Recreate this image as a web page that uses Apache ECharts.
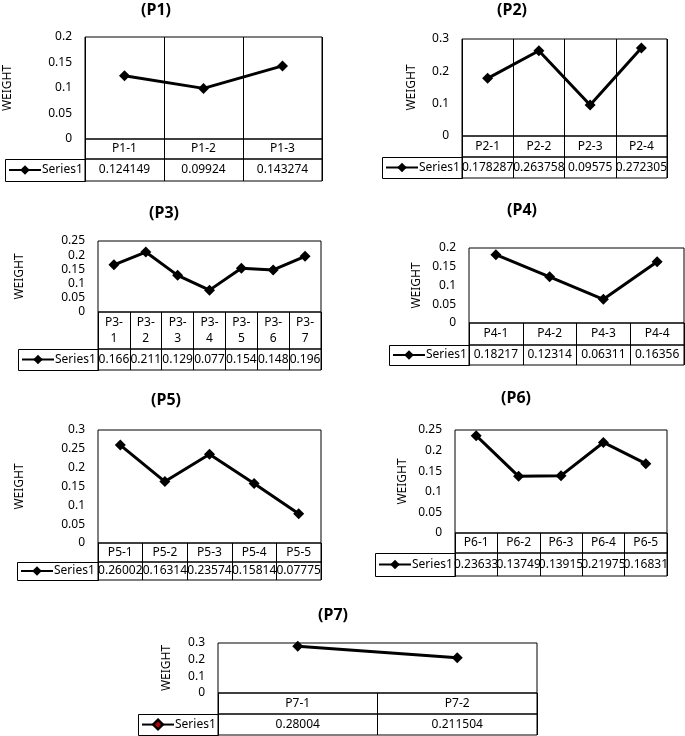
<!DOCTYPE html>
<html><head><meta charset="utf-8">
<script src="https://cdn.jsdelivr.net/npm/echarts@6/dist/echarts.min.js"></script>
<style>html,body{margin:0;padding:0;background:#fff}#c{width:685px;height:736px}</style>
</head><body><div id="c"></div>
<script>
// ---- data ----
const titles = ['(P1)', '(P2)', '(P3)', '(P4)', '(P5)', '(P6)', '(P7)'];
const cats1 = ['P1-1', 'P1-2', 'P1-3'];
const vals1 = [0.124149, 0.09924, 0.143274];
const cats2 = ['P2-1', 'P2-2', 'P2-3', 'P2-4'];
const vals2 = [0.178287, 0.263758, 0.09575, 0.272305];
const cats3 = ['P3-1', 'P3-2', 'P3-3', 'P3-4', 'P3-5', 'P3-6', 'P3-7'];
const vals3 = [0.166, 0.211, 0.129, 0.077, 0.154, 0.148, 0.196];
const cats4 = ['P4-1', 'P4-2', 'P4-3', 'P4-4'];
const vals4 = [0.18217, 0.12314, 0.06311, 0.16356];
const cats5 = ['P5-1', 'P5-2', 'P5-3', 'P5-4', 'P5-5'];
const vals5 = [0.26002, 0.16314, 0.23574, 0.15814, 0.07775];
const cats6 = ['P6-1', 'P6-2', 'P6-3', 'P6-4', 'P6-5'];
const vals6 = [0.23633, 0.13749, 0.13915, 0.21975, 0.16831];
const cats7 = ['P7-1', 'P7-2'];
const vals7 = [0.28004, 0.211504];
const yMax = [0.2, 0.3, 0.25, 0.2, 0.3, 0.25, 0.3];
const yStep = [0.05, 0.1, 0.05, 0.05, 0.05, 0.05, 0.1];
const seriesName = 'Series1';
const axisTitle = 'WEIGHT';

const allCats = [cats1, cats2, cats3, cats4, cats5, cats6, cats7];
const allVals = [vals1, vals2, vals3, vals4, vals5, vals6, vals7];

// ---- layout (pixels) ----
const layout = [
  {L: 85,  T: 37,  R: 322, B: 139, CB: 159, DB: 181, CL: 5,   tx: 156, ty: 12,  wx: 8,   vlines: true,  wrap: false},
  {L: 462, T: 39,  R: 667, B: 136, CB: 157, DB: 178, CL: 382, tx: 512, ty: 12,  wx: 412, vlines: true,  wrap: false},
  {L: 98,  T: 241, R: 321, B: 312, CB: 349, DB: 370, CL: 18,  tx: 164, ty: 215, wx: 20,  vlines: false, wrap: true},
  {L: 469, T: 248, R: 684, B: 323, CB: 345, DB: 365, CL: 389, tx: 522, ty: 212, wx: 417, vlines: false, wrap: false},
  {L: 98,  T: 430, R: 321, B: 543, CB: 562, DB: 580, CL: 17,  tx: 166, ty: 402, wx: 20,  vlines: false, wrap: false},
  {L: 455, T: 430, R: 667, B: 533, CB: 553, DB: 576, CL: 375, tx: 516, ty: 400, wx: 403, vlines: false, wrap: false},
  {L: 218, T: 643, R: 537, B: 693, CB: 714, DB: 735, CL: 138, tx: 333, ty: 617, wx: 167, vlines: false, wrap: false}
];

const FONT = 'Noto Sans';
const FS = 12;
const grid = [], xAxis = [], yAxis = [], series = [], legend = [], title = [], graphic = [];
const border = {show: true, borderColor: '#000', borderWidth: 1, backgroundColor: 'transparent'};

layout.forEach((p, i) => {
  const cats = allCats[i], vals = allVals[i];
  const w = p.R - p.L;
  const g0 = grid.length;
  grid.push(Object.assign({left: p.L, top: p.T, width: w, height: p.B - p.T}, border));
  grid.push(Object.assign({left: p.L, top: p.B, width: w, height: p.CB - p.B}, border));
  grid.push(Object.assign({left: p.L, top: p.CB, width: w, height: p.DB - p.CB}, border));

  // plot axes
  xAxis.push({type: 'category', gridIndex: g0, data: cats, boundaryGap: true,
    axisLine: {show: false}, axisTick: {show: false}, axisLabel: {show: false},
    splitLine: {show: p.vlines, interval: 0, lineStyle: {color: '#000', width: 1}}});
  yAxis.push({type: 'value', gridIndex: g0, min: 0, max: yMax[i], interval: yStep[i],
    axisLine: {show: false}, axisTick: {show: false}, splitLine: {show: false},
    axisLabel: {color: '#000', fontSize: FS, fontFamily: FONT, margin: 13},
    name: axisTitle, nameLocation: 'middle', nameRotate: 90, nameGap: p.L - p.wx - 6,
    nameTextStyle: {color: '#000', fontSize: 12, fontFamily: FONT}});

  // category row
  const hC = p.CB - p.B;
  xAxis.push({type: 'category', gridIndex: g0 + 1, data: cats, position: 'top', boundaryGap: true,
    axisLine: {show: false}, axisTick: {show: false},
    axisLabel: {inside: true, margin: hC / 2, verticalAlign: 'middle', interval: 0,
      color: '#000', fontSize: FS, fontFamily: FONT, lineHeight: 16,
      formatter: v => p.wrap ? v.replace('-', '-\n') : v},
    splitLine: {show: true, interval: 0, lineStyle: {color: '#000', width: 1}}});
  yAxis.push({type: 'value', gridIndex: g0 + 1, show: false});

  // data row
  const hD = p.DB - p.CB;
  xAxis.push({type: 'category', gridIndex: g0 + 2, data: cats, position: 'top', boundaryGap: true,
    axisLine: {show: false}, axisTick: {show: false},
    axisLabel: {inside: true, margin: hD / 2, verticalAlign: 'middle', interval: 0,
      color: '#000', fontSize: FS, fontFamily: FONT,
      formatter: (v, idx) => String(vals[idx])},
    splitLine: {show: true, interval: 0, lineStyle: {color: '#000', width: 1}}});
  yAxis.push({type: 'value', gridIndex: g0 + 2, show: false});

  series.push({type: 'line', name: seriesName, xAxisIndex: g0, yAxisIndex: g0, data: vals,
    symbol: 'diamond', symbolSize: 11, lineStyle: {color: '#000', width: 3},
    itemStyle: {color: '#000'}, z: 5, animation: false});

  legend.push(Object.assign({data: [seriesName], left: p.CL + 3, top: p.CB + hD / 2 - 6, padding: 0,
    itemWidth: 32, itemHeight: 12, selectedMode: false, itemGap: 0,
    textStyle: {color: '#000', fontSize: FS, fontFamily: FONT, padding: [0, 0, 0, -4]}},
    i === 6 ? {itemStyle: {color: '#c00000', borderColor: '#000', borderWidth: 2.5}} : {}));

  title.push({text: titles[i], left: p.tx, top: p.ty - 10, textAlign: 'center', padding: 0,
    textStyle: {color: '#000', fontSize: 16, fontWeight: 'bold', fontFamily: FONT}});

  graphic.push({type: 'rect', shape: {x: p.CL + 0.5, y: p.CB + 0.5, width: p.L - p.CL, height: hD},
    style: {fill: 'none', stroke: '#000', lineWidth: 1}, z: 10});
});

const chart = echarts.init(document.getElementById('c'));
chart.setOption({animation: false, backgroundColor: '#fff', title, grid, xAxis, yAxis, series, legend, graphic});
</script></body></html>
